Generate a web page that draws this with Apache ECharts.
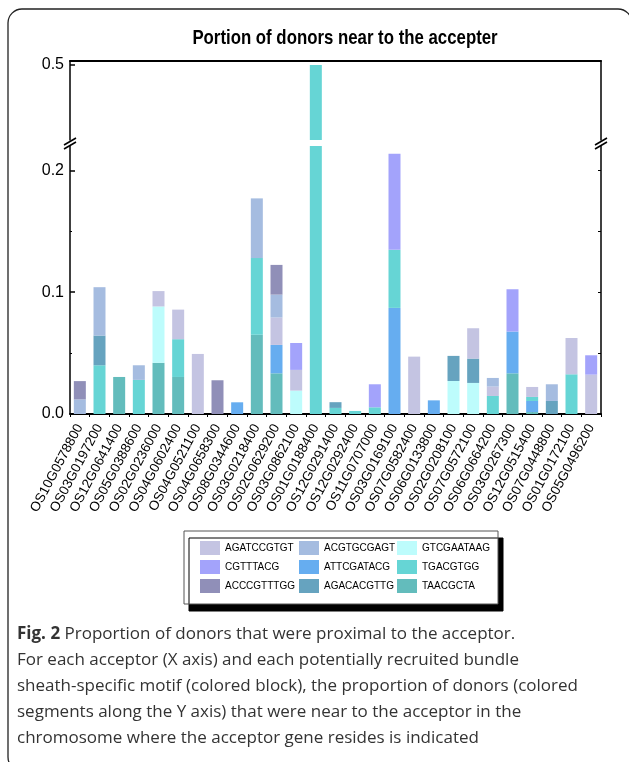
<!DOCTYPE html>
<html>
<head>
<meta charset="utf-8">
<script src="https://cdn.jsdelivr.net/npm/echarts@6/dist/echarts.min.js"></script>
<style>
  html, body { margin: 0; padding: 0; background: #fff; }
  #chart { width: 629px; height: 762px; }
</style>
</head>
<body>
<div id="chart"></div>
<script>
var categories = ["OS10G0578800", "OS03G0197200", "OS12G0641400", "OS05G0388600", "OS02G0236000",
  "OS04G0602400", "OS04G0521100", "OS04G0658300", "OS08G0344600", "OS03G0218400", "OS02G0629200",
  "OS03G0862100", "OS01G0188400", "OS12G0291400", "OS12G0292400", "OS11G0707000", "OS03G0169100",
  "OS07G0582400", "OS06G0133800", "OS02G0208100", "OS07G0572100", "OS06G0664200", "OS03G0267300",
  "OS12G0515400", "OS07G0448800", "OS01G0172100", "OS05G0496200"];

// segment heights per motif, stacked bottom -> top in this order
var TAACGCTA   = [0, 0, 0.0304, 0, 0.042, 0.0304, 0, 0, 0, 0.065, 0.0334, 0, 0, 0, 0, 0, 0, 0, 0, 0, 0, 0, 0.0334, 0.0016, 0, 0, 0];
var ATTCGATACG = [0, 0, 0, 0, 0, 0, 0, 0, 0.0096, 0, 0.0233, 0, 0, 0, 0, 0, 0.0871, 0, 0.0112, 0, 0, 0, 0.0343, 0.0091, 0, 0, 0];
var TGACGTGG   = [0, 0.040, 0, 0.028, 0, 0.031, 0, 0, 0, 0.063, 0, 0, 0.5, 0.005, 0.0025, 0.0055, 0.0477, 0, 0, 0, 0, 0.0148, 0, 0.0033, 0, 0.0326, 0];
var GTCGAATAAG = [0, 0, 0, 0, 0.0463, 0, 0, 0, 0, 0, 0, 0.0192, 0, 0, 0, 0, 0, 0, 0, 0.0271, 0.0255, 0, 0, 0, 0, 0, 0];
var AGACACGTTG = [0, 0.0244, 0, 0, 0, 0, 0, 0, 0, 0, 0, 0, 0, 0.0047, 0, 0, 0, 0, 0, 0.0206, 0.020, 0, 0, 0, 0.0107, 0, 0];
var AGATCCGTGT = [0, 0, 0, 0, 0.0126, 0.0243, 0.0493, 0, 0, 0, 0.0225, 0.017, 0, 0, 0, 0, 0, 0.0471, 0, 0, 0.0249, 0.0077, 0, 0.0082, 0, 0.0298, 0.0323];
var ACGTGCGAGT = [0.012, 0.0397, 0, 0.012, 0, 0, 0, 0, 0, 0.049, 0.0188, 0, 0, 0, 0, 0, 0, 0, 0, 0, 0, 0.0071, 0, 0, 0.0137, 0, 0];
var ACCCGTTTGG = [0.015, 0, 0, 0, 0, 0, 0, 0.0277, 0, 0, 0.0244, 0, 0, 0, 0, 0, 0, 0, 0, 0, 0, 0, 0, 0, 0, 0, 0];
var CGTTTACG   = [0, 0, 0, 0, 0, 0, 0, 0, 0, 0, 0, 0.0221, 0, 0, 0, 0.0189, 0.0788, 0, 0, 0, 0, 0, 0.0347, 0, 0, 0, 0.0159];

var yTicksLow = [0, 0.1, 0.2];
var yTicksHigh = [0.5];

var motifs = [
  ["TAACGCTA", TAACGCTA, "#63bcbc"],
  ["ATTCGATACG", ATTCGATACG, "#66adf0"],
  ["TGACGTGG", TGACGTGG, "#66d5d5"],
  ["GTCGAATAAG", GTCGAATAAG, "#bdfcfc"],
  ["AGACACGTTG", AGACACGTTG, "#66a3bf"],
  ["AGATCCGTGT", AGATCCGTGT, "#c4c4e2"],
  ["ACGTGCGAGT", ACGTGCGAGT, "#a5bce0"],
  ["ACCCGTTTGG", ACCCGTTTGG, "#908fb8"],
  ["CGTTTACG", CGTTTACG, "#a3a3fb"]
];

var sans = "'Liberation Sans', Arial, sans-serif";

var myChart = echarts.init(document.getElementById("chart"));

var series = [];
for (let g = 0; g < 2; g++) {
  for (let i = 0; i < motifs.length; i++) {
    series.push({
      name: motifs[i][0],
      type: "bar",
      stack: g === 0 ? "low" : "high",
      xAxisIndex: g === 0 ? 0 : 2,
      yAxisIndex: g === 0 ? 0 : 3,
      barWidth: 12,
      clip: true,
      itemStyle: { color: motifs[i][2] },
      emphasis: { disabled: true },
      data: motifs[i][1]
    });
  }
}

function legendCol(left, names) {
  return {
    orient: "vertical",
    left: left,
    top: 541,
    padding: 0,
    itemWidth: 20,
    itemHeight: 14,
    itemGap: 5,
    icon: "rect",
    selectedMode: false,
    itemStyle: { borderWidth: 0 },
    textStyle: { fontFamily: sans, fontSize: 10, color: "#000" },
    data: names
  };
}

function breakMark(x) {
  return [
    { type: "line", shape: { x1: x - 6, y1: 145, x2: x + 6, y2: 138 }, style: { stroke: "#000", lineWidth: 1.6 } },
    { type: "line", shape: { x1: x - 6, y1: 149, x2: x + 6, y2: 142 }, style: { stroke: "#000", lineWidth: 1.6 } }
  ];
}

var option = {
  animation: false,
  backgroundColor: "#fff",
  grid: [
    { left: 70, width: 531, top: 146, height: 268, outerBoundsMode: "none" },
    { left: 70, width: 531, top: 61, height: 79, outerBoundsMode: "none" }
  ],
  legend: [
    legendCol(200, ["AGATCCGTGT", "CGTTTACG", "ACCCGTTTGG"]),
    legendCol(299, ["ACGTGCGAGT", "ATTCGATACG", "AGACACGTTG"]),
    legendCol(397, ["GTCGAATAAG", "TGACGTGG", "TAACGCTA"])
  ],
  xAxis: [
    {
      type: "category",
      gridIndex: 0,
      data: categories,
      axisLine: { lineStyle: { color: "#000", width: 2 } },
      axisTick: { show: true, interval: 0, length: 3, lineStyle: { color: "#000" } },
      axisLabel: { interval: 0, rotate: 62, margin: 11, fontSize: 13.5, color: "#000", fontFamily: sans },
      splitLine: { show: false }
    },
    {
      type: "category",
      gridIndex: 0,
      data: categories,
      axisLine: { show: false },
      axisTick: { show: true, interval: 0, alignWithLabel: true, length: 3, lineStyle: { color: "#000" } },
      axisLabel: { show: false },
      splitLine: { show: false }
    },
    {
      type: "category",
      gridIndex: 1,
      position: "top",
      data: categories,
      axisLine: { lineStyle: { color: "#000", width: 2 } },
      axisTick: { show: false },
      axisLabel: { show: false },
      splitLine: { show: false }
    }
  ],
  yAxis: [
    {
      type: "value",
      gridIndex: 0,
      min: 0,
      max: 0.22,
      interval: 0.1,
      axisLine: { show: true, lineStyle: { color: "#000", width: 1.5 } },
      axisTick: { show: true, inside: true, length: 5, customValues: yTicksLow, lineStyle: { color: "#000", width: 1.5 } },
      axisLabel: {
        customValues: yTicksLow, margin: 6, fontSize: 16, color: "#000", fontFamily: sans,
        formatter: function (v) { return v.toFixed(1); }
      },
      splitLine: { show: false }
    },
    {
      type: "value",
      gridIndex: 0,
      position: "right",
      min: 0,
      max: 0.22,
      interval: 0.05,
      axisLine: { show: true, lineStyle: { color: "#000", width: 1.5 } },
      axisTick: { show: true, inside: true, length: 3, customValues: [0.05, 0.1, 0.15, 0.2], lineStyle: { color: "#000" } },
      axisLabel: { show: false },
      splitLine: { show: false }
    },
    {
      type: "value",
      gridIndex: 0,
      position: "left",
      min: 0,
      max: 0.22,
      interval: 0.05,
      axisLine: { show: false },
      axisTick: { show: true, inside: true, length: 2, customValues: [0.05, 0.15], lineStyle: { color: "#000" } },
      axisLabel: { show: false },
      splitLine: { show: false }
    },
    {
      type: "value",
      gridIndex: 1,
      min: 0.424,
      max: 0.504,
      axisLine: { show: true, lineStyle: { color: "#000", width: 1.5 } },
      axisTick: { show: true, inside: true, length: 5, customValues: yTicksHigh, lineStyle: { color: "#000", width: 1.5 } },
      axisLabel: {
        customValues: yTicksHigh, margin: 6, fontSize: 16, color: "#000", fontFamily: sans,
        formatter: function (v) { return v.toFixed(1); }
      },
      splitLine: { show: false }
    },
    {
      type: "value",
      gridIndex: 1,
      position: "right",
      min: 0.424,
      max: 0.504,
      axisLine: { show: true, lineStyle: { color: "#000", width: 1.5 } },
      axisTick: { show: false },
      axisLabel: { show: false },
      splitLine: { show: false }
    }
  ],
  graphic: [
    {
      type: "rect",
      shape: { x: 8, y: 9, width: 624, height: 762, r: 14 },
      style: { fill: "none", stroke: "#222", lineWidth: 1.3 },
      z: -10
    },
    {
      type: "text",
      x: 345,
      y: 38,
      scaleX: 0.8,
      style: {
        text: "Portion of donors near to the accepter",
        fontFamily: sans,
        fontWeight: "bold",
        fontSize: 21,
        fill: "#000",
        align: "center",
        verticalAlign: "middle"
      }
    },
    {
      type: "rect",
      shape: { x: 184, y: 531, width: 314, height: 73 },
      style: { fill: "#fff", stroke: "#555", lineWidth: 1, shadowColor: "#000", shadowOffsetX: 5, shadowOffsetY: 7, shadowBlur: 0 },
      z: 1
    },
    {
      type: "text",
      x: 17,
      y: 621,
      style: {
        text: "{b|Fig. 2} Proportion of donors that were proximal to the acceptor.\n" +
          "For each acceptor (X axis) and each potentially recruited bundle\n" +
          "sheath-specific motif (colored block), the proportion of donors (colored\n" +
          "segments along the Y axis) that were near to the acceptor in the\n" +
          "chromosome where the acceptor gene resides is indicated",
        fontFamily: "'Open Sans', 'Noto Sans', sans-serif",
        fontSize: 17,
        lineHeight: 26,
        fill: "#333",
        rich: {
          b: { fontFamily: "'Open Sans', 'Noto Sans', sans-serif", fontWeight: "bold", fontSize: 17, lineHeight: 26, fill: "#333" }
        }
      }
    }
  ].concat(breakMark(70), breakMark(601)),
  series: series
};

myChart.setOption(option, true);
</script>
</body>
</html>
